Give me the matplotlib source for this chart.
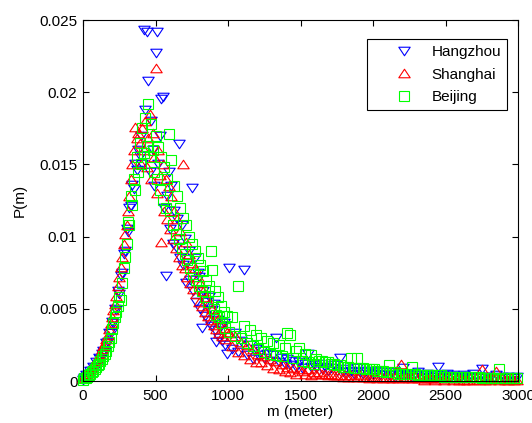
import numpy as np
import matplotlib.pyplot as plt
from matplotlib.path import Path

plt.rcParams['font.family'] = ['Liberation Sans', 'DejaVu Sans']

# distance bins (m): 10 m steps below 1000, 20 m steps above
m_near = [0, 10, 20, 30, 40, 50, 60, 70, 80, 90,
          100, 110, 120, 130, 140, 150, 160, 170, 180, 190,
          200, 210, 220, 230, 240, 250, 260, 270, 280, 290,
          300, 310, 320, 330, 340, 350, 360, 370, 380, 390,
          400, 410, 420, 430, 440, 450, 460, 470, 480, 490,
          500, 510, 520, 530, 540, 550, 560, 570, 580, 590,
          600, 610, 620, 630, 640, 650, 660, 670, 680, 690,
          700, 710, 720, 730, 740, 750, 760, 770, 780, 790,
          800, 810, 820, 830, 840, 850, 860, 870, 880, 890,
          900, 910, 920, 930, 940, 950, 960, 970, 980, 990]
m_far = [1010, 1030, 1050, 1070, 1090, 1110, 1130, 1150, 1170, 1190,
         1210, 1230, 1250, 1270, 1290, 1310, 1330, 1350, 1370, 1390,
         1410, 1430, 1450, 1470, 1490, 1510, 1530, 1550, 1570, 1590,
         1610, 1630, 1650, 1670, 1690, 1710, 1730, 1750, 1770, 1790,
         1810, 1830, 1850, 1870, 1890, 1910, 1930, 1950, 1970, 1990,
         2010, 2030, 2050, 2070, 2090, 2110, 2130, 2150, 2170, 2190,
         2210, 2230, 2250, 2270, 2290, 2310, 2330, 2350, 2370, 2390,
         2410, 2430, 2450, 2470, 2490, 2510, 2530, 2550, 2570, 2590,
         2610, 2630, 2650, 2670, 2690, 2710, 2730, 2750, 2770, 2790,
         2810, 2830, 2850, 2870, 2890, 2910, 2930, 2950, 2970, 2990]

# P(m) in units of 1e-4
hangzhou = [1, 2, 4, 3, 5, 7, 7, 10, 9, 13,
            12, 16, 15, 19, 21, 20, 26, 27, 33, 33,
            41, 40, 50, 49, 62, 60, 73, 75, 88, 90,
            105, 103, 120, 121, 136, 133, 150, 146, 160, 156,
            170, 150, 243, 188, 242, 208, 145, 180, 160, 135,
            227, 242, 150, 170, 195, 197, 120, 73, 128, 145,
            105, 135, 95, 118, 93, 112, 164, 85, 108, 80,
            98, 68, 82, 90, 70, 134, 62, 85, 55, 75,
            72, 50, 37, 62, 45, 55, 42, 58, 38, 49,
            53, 35, 27, 42, 30, 38, 28, 40, 25, 19,
            78, 22, 33, 20, 28, 77, 18, 25, 15, 22,
            18, 21, 16, 19, 14, 18, 30, 13, 16, 12,
            15, 11, 14, 10, 13, 9, 12, 19, 10, 11,
            9, 12, 8, 10, 7, 9, 11, 7, 16, 6,
            8, 6, 7, 5, 9, 6, 5, 7, 4, 6,
            5, 7, 4, 6, 5, 4, 6, 3, 5, 4,
            9, 4, 5, 3, 4, 6, 3, 4, 5, 3,
            4, 3, 10, 4, 3, 5, 3, 4, 2, 3,
            3, 4, 2, 3, 5, 3, 2, 8, 3, 2,
            3, 2, 4, 2, 3, 2, 3, 2, 2, 3]
shanghai = [2, 3, 4, 5, 7, 8, 10, 11, 13, 14,
            16, 17, 19, 22, 24, 26, 29, 32, 36, 40,
            44, 49, 53, 59, 66, 72, 79, 86, 95, 102,
            108, 118, 128, 140, 150, 160, 176, 168, 172, 165,
            150, 175, 160, 180, 148, 168, 185, 140, 172, 155,
            217, 130, 160, 143, 96, 150, 118, 140, 112, 135,
            105, 128, 98, 118, 92, 112, 86, 104, 80, 150,
            78, 96, 72, 88, 68, 82, 64, 78, 60, 72,
            55, 68, 52, 62, 48, 58, 45, 54, 42, 50,
            39, 47, 36, 43, 33, 40, 31, 37, 29, 34,
            33, 24, 31, 20, 27, 18, 25, 15, 22, 13,
            19, 13, 17, 11, 15, 9, 14, 8, 12, 7,
            10, 6, 9, 5, 8, 7, 5, 8, 4, 6,
            5, 6, 5, 5, 4, 5, 4, 4, 4, 3,
            4, 3, 4, 3, 3, 4, 3, 3, 2, 3,
            3, 2, 3, 2, 3, 2, 2, 3, 2, 12,
            2, 3, 2, 2, 3, 2, 2, 1, 2, 2,
            2, 1, 2, 2, 1, 2, 2, 1, 2, 1,
            2, 1, 1, 2, 1, 2, 1, 8, 1, 2,
            1, 2, 7, 1, 2, 1, 1, 2, 1, 1]
beijing = [1, 2, 2, 3, 4, 5, 6, 7, 8, 10,
           11, 12, 14, 15, 17, 19, 21, 24, 27, 30,
           36, 40, 44, 48, 52, 58, 56, 68, 78, 86,
           95, 110, 108, 128, 122, 140, 132, 155, 145, 165,
           150, 175, 158, 182, 163, 192, 155, 178, 160, 145,
           170, 140, 162, 132, 155, 125, 148, 120, 140, 171,
           118, 153, 108, 135, 102, 128, 98, 120, 92, 113,
           88, 108, 84, 100, 78, 95, 74, 90, 70, 85,
           66, 80, 62, 76, 58, 70, 55, 66, 90, 77,
           50, 62, 46, 58, 44, 52, 40, 48, 37, 45,
           34, 44, 31, 66, 30, 38, 26, 35, 24, 32,
           22, 30, 20, 28, 19, 26, 18, 25, 17, 23,
           33, 32, 16, 21, 23, 14, 19, 13, 18, 12,
           15, 14, 14, 13, 13, 12, 12, 11, 11, 10,
           10, 10, 16, 9, 16, 9, 9, 8, 8, 8,
           8, 7, 7, 7, 6, 11, 6, 6, 5, 5,
           5, 5, 5, 10, 5, 4, 4, 4, 4, 4,
           4, 4, 4, 4, 3, 3, 3, 3, 3, 3,
           3, 3, 3, 3, 3, 3, 3, 2, 2, 2,
           2, 2, 2, 8, 2, 2, 2, 2, 2, 2]

m = np.array(m_near + m_far)
series = [('Hangzhou', hangzhou, 'v', 'blue'),
          ('Shanghai', shanghai, '^', 'red'),
          ('Beijing', beijing, 's', 'lime')]

# MATLAB-like triangles are wider than tall
tri_down = Path([(-1, 0.75), (1, 0.75), (0, -0.75), (-1, 0.75)],
                [Path.MOVETO, Path.LINETO, Path.LINETO, Path.CLOSEPOLY])
tri_up = Path([(-1, -0.75), (1, -0.75), (0, 0.75), (-1, -0.75)],
              [Path.MOVETO, Path.LINETO, Path.LINETO, Path.CLOSEPOLY])
shapes = {'v': (tri_down, 8.2), '^': (tri_up, 8.2), 's': ('s', 7)}

fig = plt.figure(figsize=(5.32, 4.23), dpi=100)
ax = fig.add_axes([83 / 532, 42 / 423, 435 / 532, 361 / 423])

for name, vals, mk, col in series:
    p = np.array(vals) * 1e-4
    marker, ms = shapes[mk]
    ax.plot(m, p, linestyle='none', marker=marker, markersize=ms,
            markerfacecolor='none', markeredgecolor=col,
            markeredgewidth=0.8, label=name, clip_on=False)

ax.set_xlim(0, 3000)
ax.set_ylim(0, 0.025)
ax.set_xticks([0, 500, 1000, 1500, 2000, 2500, 3000])
ax.set_yticks([0, 0.005, 0.01, 0.015, 0.02, 0.025])
ax.set_yticklabels(['0', '0.005', '0.01', '0.015', '0.02', '0.025'])
ax.tick_params(direction='in', length=4, width=0.8, top=True, right=True,
               labelsize=11, colors='black')
ax.tick_params(axis='x', pad=6)
ax.tick_params(axis='y', pad=4)
for s in ax.spines.values():
    s.set_linewidth(0.8)

ax.set_xlabel('m (meter)', fontsize=11, labelpad=1)
ax.set_ylabel('P(m)', fontsize=11, labelpad=9)

leg = ax.legend(loc='upper right', bbox_to_anchor=(424 / 435, 342 / 361),
                borderaxespad=0, fontsize=11, handlelength=4,
                handletextpad=-0.2, labelspacing=0.55, borderpad=0.4,
                fancybox=False, framealpha=1, edgecolor='black')
leg.get_frame().set_linewidth(0.8)

fig.savefig('out.png', dpi=100)
